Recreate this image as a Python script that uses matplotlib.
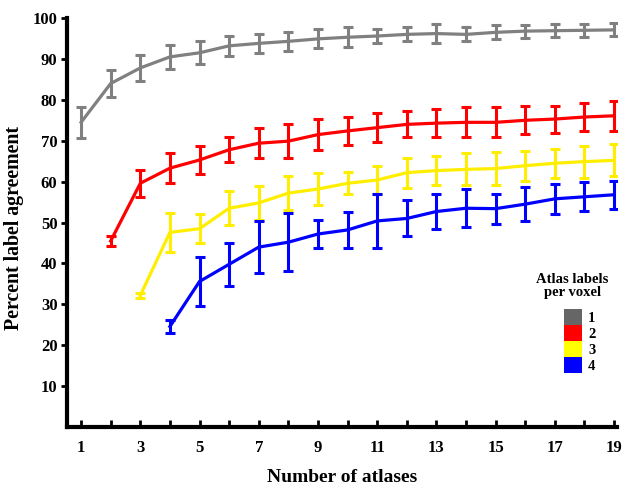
import matplotlib
matplotlib.use("Agg")
import matplotlib.pyplot as plt
from matplotlib.patches import Patch
import numpy as np

plt.rcParams['font.family'] = ['Liberation Serif', 'DejaVu Serif']
plt.rcParams['font.weight'] = 'bold'

# number of atlases for each series
x1 = np.arange(1, 20)
x2 = np.arange(2, 20)
x3 = np.arange(3, 20)
x4 = np.arange(4, 20)

# mean percent label agreement
mean1 = [74.5, 84, 87.8, 90.5, 91.5, 93.2, 93.8, 94.3, 94.9, 95.3, 95.6, 96.0,
         96.2, 96.0, 96.5, 96.8, 96.9, 97.0, 97.1]
err1 = [3.8, 3.3, 3.2, 3.0, 2.8, 2.4, 2.4, 2.3, 2.3, 2.5, 1.8, 1.7, 2.4, 1.7, 1.7, 1.6, 1.6, 1.6, 1.6]

mean2 = [45.5, 59.6, 63.3, 65.3, 67.8, 69.4, 69.9, 71.5, 72.4, 73.2, 74.0, 74.3,
         74.5, 74.5, 75.0, 75.3, 75.8, 76.1]
err2 = [1.2, 3.3, 3.7, 3.4, 3.0, 3.7, 4.2, 3.8, 3.4, 3.5, 3.2, 3.5, 3.7, 3.7, 3.4, 3.3, 3.5, 3.7]

mean3 = [32.2, 47.6, 48.5, 53.5, 54.8, 57.2, 58.2, 59.6, 60.4, 62.2, 62.7, 63.0,
         63.2, 63.9, 64.5, 64.9, 65.2]
err3 = [0.7, 4.8, 3.6, 4.2, 4.1, 4.2, 3.9, 2.7, 3.5, 3.7, 3.6, 3.9, 4.0, 3.7, 3.5, 3.9, 3.9]

mean4 = [24.6, 35.6, 39.8, 44.0, 45.2, 47.2, 48.2, 50.4, 51.0, 52.7, 53.5, 53.4,
         54.5, 55.8, 56.3, 56.8]
err4 = [1.6, 6.0, 5.2, 6.4, 7.1, 3.5, 4.5, 6.6, 4.4, 4.2, 4.7, 3.7, 4.2, 3.7, 3.5, 3.4]

series_names = ['1', '2', '3', '4']
line_colors = ['#808080', '#ff0000', '#ffee00', '#0000ff']
legend_colors = ['#666666', '#ff0000', '#ffff00', '#0000ff']

fig = plt.figure(figsize=(6.22, 4.87), dpi=100)
ax = fig.add_axes([0.108, 0.123, 0.884, 0.840])

data = [(x1, mean1, err1), (x2, mean2, err2), (x3, mean3, err3), (x4, mean4, err4)]
for (xs, m, e), c in zip(data, line_colors):
    ax.errorbar(xs, m, yerr=e, color=c, lw=2.3, elinewidth=2.2,
                capsize=3.8, capthick=2.2)

ax.set_xlim(0.53, 19.1)
ax.set_ylim(0, 100)
ax.set_xticks(np.arange(1, 20))
ax.set_xticklabels([str(i) if i % 2 == 1 else '' for i in range(1, 20)], fontsize=12)
ax.set_yticks(np.arange(10, 101, 10))
ax.set_yticklabels([str(v) for v in range(10, 101, 10)], fontsize=12)
ax.tick_params(axis='x', direction='in', length=5, width=2, pad=9)
ax.tick_params(axis='y', direction='out', length=4, width=2, pad=3)

for s in ['top', 'right']:
    ax.spines[s].set_visible(False)
for s in ['left', 'bottom']:
    ax.spines[s].set_linewidth(3)

ax.set_xlabel('Number of atlases', fontsize=14, fontweight='bold', labelpad=10)
ax.set_ylabel('Percent label agreement', fontsize=14.3, fontweight='bold')
ax.yaxis.set_label_coords(-0.078, 0.487)

# legend title as its own text, then the colour blocks below it
fig.text(572.5 / 622, 1 - 286 / 487, 'Atlas labels\nper voxel', ha='center',
         va='center', fontsize=10.5, fontweight='bold', linespacing=1.0)
handles = [Patch(facecolor=c, edgecolor='none') for c in legend_colors]
leg = fig.legend(handles, series_names, loc='upper left',
                 bbox_to_anchor=(564 / 622, 1 - 309 / 487),
                 bbox_transform=fig.transFigure, frameon=False,
                 borderaxespad=0, borderpad=0,
                 handlelength=1.25, handleheight=1.3, labelspacing=0,
                 handletextpad=0.4, fontsize=10.5)

fig.savefig('out.png', dpi=100)
